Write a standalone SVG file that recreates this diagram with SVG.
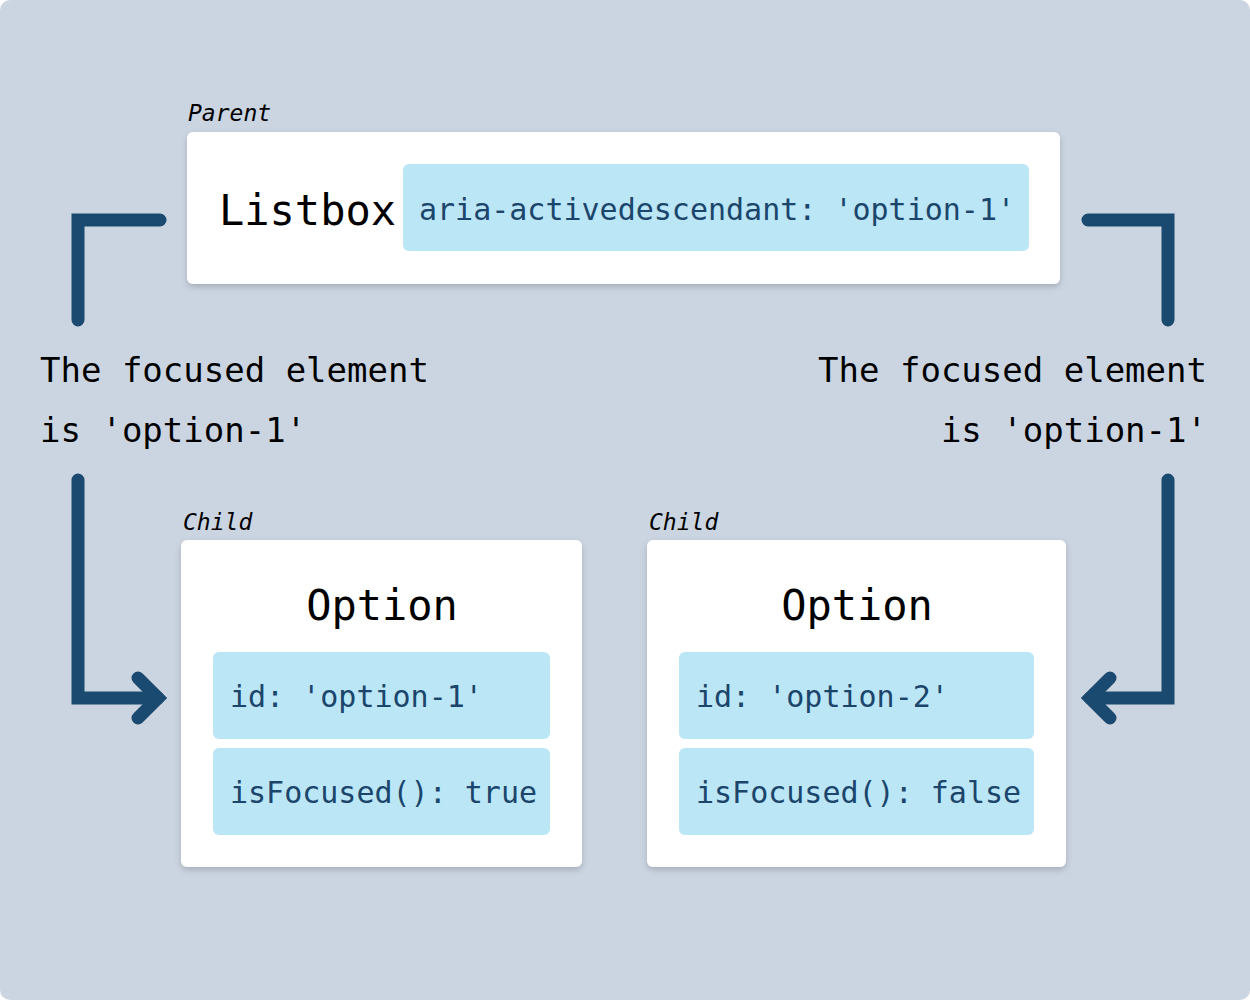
<svg xmlns="http://www.w3.org/2000/svg" width="1250" height="1000" viewBox="0 0 1250 1000">
<style>
text{font-family:"DejaVu Sans Mono","Liberation Mono",monospace}
.box{fill:#fff;filter:url(#sh)}
.chip{fill:#bae6f6}
.ct{font-size:30px;fill:#1b456b}
.lab{font-size:23px;font-style:italic;fill:#000}
.big{font-size:42px;fill:#000}
.msg{font-size:34px;fill:#000}
.con{fill:none;stroke:#1b4a70;stroke-width:13;stroke-linecap:round;stroke-linejoin:miter}
</style>
<defs><filter id="sh" x="-10%" y="-10%" width="120%" height="130%"><feDropShadow dx="0" dy="3" stdDeviation="3" flood-color="#000" flood-opacity="0.18"/></filter></defs>
<rect x="0" y="0" width="1250" height="1000" rx="10" fill="#cbd5e1"/>
<g id="parent">
<text class="lab" x="188" y="121">Parent</text>
<rect class="box" x="187" y="132" width="873" height="152" rx="6"/>
<text class="big" x="219" y="225">Listbox</text>
<rect class="chip" x="403" y="164" width="626" height="87" rx="6"/>
<text class="ct" x="419" y="220">aria-activedescendant: 'option-1'</text>
</g>
<g id="child1">
<text class="lab" x="183" y="530">Child</text>
<rect class="box" x="181" y="540" width="401" height="327" rx="6"/>
<text class="big" x="382" y="620" text-anchor="middle">Option</text>
<rect class="chip" x="213" y="652" width="337" height="87" rx="6"/>
<text class="ct" x="230" y="707">id: 'option-1'</text>
<rect class="chip" x="213" y="748" width="337" height="87" rx="6"/>
<text class="ct" x="230" y="803">isFocused(): true</text>
</g>
<g id="child2">
<text class="lab" x="649" y="530">Child</text>
<rect class="box" x="647" y="540" width="419" height="327" rx="6"/>
<text class="big" x="857" y="620" text-anchor="middle">Option</text>
<rect class="chip" x="679" y="652" width="355" height="87" rx="6"/>
<text class="ct" x="696" y="707">id: 'option-2'</text>
<rect class="chip" x="679" y="748" width="355" height="87" rx="6"/>
<text class="ct" x="696" y="803">isFocused(): false</text>
</g>
<g id="connectors">
<path class="con" d="M160 220 H78 V320"/>
<path class="con" d="M78 480 V698 H158"/>
<path class="con" d="M138 678 L158 698 L138 718"/>
<path class="con" d="M1088 220 H1168 V320"/>
<path class="con" d="M1168 480 V698 H1090"/>
<path class="con" d="M1110 678 L1090 698 L1110 718"/>
<text class="msg" x="40" y="382">The focused element</text>
<text class="msg" x="40" y="442">is 'option-1'</text>
<text class="msg" x="1207" y="382" text-anchor="end">The focused element</text>
<text class="msg" x="1207" y="442" text-anchor="end">is 'option-1'</text>
</g>
</svg>
